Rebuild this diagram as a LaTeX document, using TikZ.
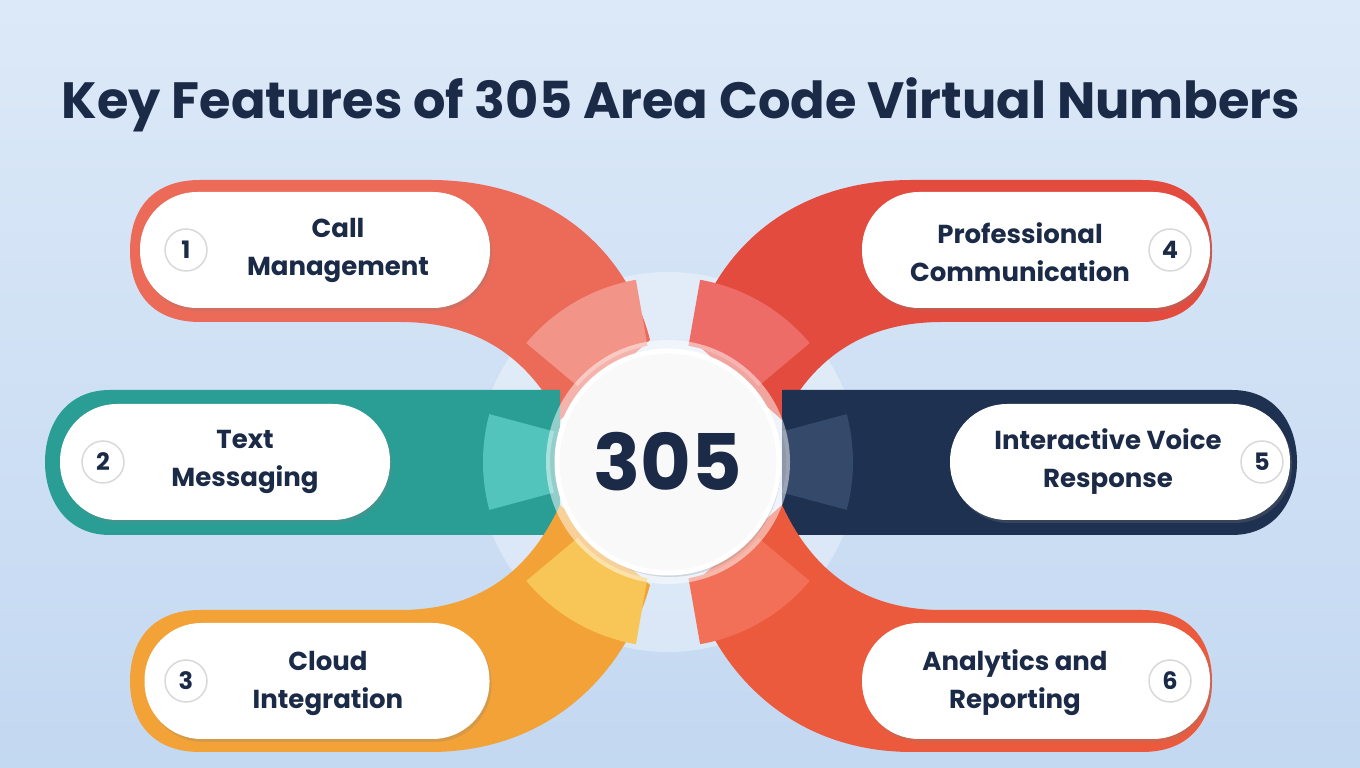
\documentclass[tikz,border=0pt]{standalone}
\usepackage{fontspec}
\setmainfont{Poppins}
\usetikzlibrary{calc,shadows}
\definecolor{navy}{HTML}{1B2A47}
\definecolor{bgtop}{HTML}{DCE9F8}
\definecolor{bgbot}{HTML}{C3D8F1}
\definecolor{coral}{HTML}{EC6A58}
\definecolor{coralL}{HTML}{F39488}
\definecolor{teal}{HTML}{2A9E95}
\definecolor{tealL}{HTML}{52C4BC}
\definecolor{orng}{HTML}{F2A236}
\definecolor{orngL}{HTML}{F7C656}
\definecolor{red}{HTML}{E24B3E}
\definecolor{redL}{HTML}{EE6C68}
\definecolor{dnavy}{HTML}{1F3150}
\definecolor{dnavyL}{HTML}{35496B}
\definecolor{redo}{HTML}{EC5A3E}
\definecolor{redoL}{HTML}{F27058}
\tikzset{
  pill/.style={fill=white,rounded corners=57pt,minimum width=#1,minimum height=116pt,
    drop shadow={opacity=0.25,shadow xshift=2pt,shadow yshift=-3pt}},
  label/.style={text=navy,font=\fontsize{26}{38}\selectfont\bfseries,align=center},
  num/.style={circle,fill=white,draw=gray!30,line width=1.5pt,minimum size=42pt,
    text=navy,font=\fontsize{24}{28}\selectfont\bfseries,inner sep=0pt}
}
\newcommand{\seg}[3]{%
  \fill[#3] ($(C)+(#1:118)$) -- ($(C)+(#1:185)$) arc[start angle=#1,end angle=#2,radius=185]
    -- ($(C)+(#2:118)$) arc[start angle=#2,end angle=#1,radius=118] -- cycle;}
\newcommand{\bandtop}[1]{%
  \fill[#1] (200,588) -- (430,588) .. controls (560,588) and (630,508) .. (650,428)
    -- (560,348) .. controls (530,408) and (480,446) .. (400,446) -- (200,446)
    .. controls (150,446) and (130,478) .. (130,517) .. controls (130,556) and (150,588) .. (200,588);}
\newcommand{\bandmid}[1]{%
  \fill[#1] (110,378) -- (560,378) -- (560,233) -- (110,233)
    .. controls (65,233) and (45,270) .. (45,306) .. controls (45,342) and (65,378) .. (110,378);}
\newcommand{\bandbot}[1]{%
  \fill[#1] (200,16) -- (430,16) .. controls (560,16) and (630,108) .. (650,183)
    -- (560,263) .. controls (530,198) and (480,158) .. (400,158) -- (200,158)
    .. controls (150,158) and (130,125) .. (130,87) .. controls (130,49) and (150,16) .. (200,16);}
\begin{document}
\begin{tikzpicture}[x=1pt,y=1pt]
  \useasboundingbox (0,0) rectangle (1360,768);
  \shade[top color=bgtop,bottom color=bgbot] (0,0) rectangle (1360,768);
  \coordinate (C) at (668,306);
  % title
  \node[text=navy,font=\fontsize{51}{58}\selectfont\bfseries] (title) at (681,663)
    {Key Features of 305 Area Code Virtual Numbers};
  % faint ring
  \fill[white,opacity=0.35] (C) circle[radius=190];
  % bands
  \bandtop{coral}
  \bandmid{teal}
  \bandbot{orng}
  \begin{scope}[xshift=1342pt,xscale=-1]
    \bandtop{red}
    \bandmid{dnavy}
    \bandbot{redo}
  \end{scope}
  % ring segments
  \seg{100}{140}{coralL}
  \seg{165}{195}{tealL}
  \seg{220}{260}{orngL}
  \seg{40}{80}{redL}
  \seg{-15}{15}{dnavyL}
  \seg{-80}{-40}{redoL}
  % centre
  \fill[white,opacity=0.5] (C) circle[radius=122];
  \node[circle,fill=white!95!gray,draw=white,line width=5pt,minimum size=222pt,
    drop shadow={opacity=0.25,shadow xshift=2pt,shadow yshift=-4pt},
    text=navy,font=\fontsize{78}{90}\selectfont\bfseries] (centre) at (C) {305};
  % pills
  \node[pill=350pt] (p1) at (315,518) {};
  \node[pill=330pt] (p2) at (225,306) {};
  \node[pill=345pt] (p3) at (317,87) {};
  \node[pill=348pt] (p4) at (1036,518) {};
  \node[pill=340pt] (p5) at (1120,306) {};
  \node[pill=348pt] (p6) at (1036,87) {};
  % numbers
  \node[num] (n1) at (186,518) {1};
  \node[num] (n2) at (103,306) {2};
  \node[num] (n3) at (186,87) {3};
  \node[num] (n4) at (1170,518) {4};
  \node[num] (n5) at (1262,306) {5};
  \node[num] (n6) at (1170,87) {6};
  % labels
  \node[label] (l1) at (338,518) {Call\\Management};
  \node[label] (l2) at (245,306) {Text\\Messaging};
  \node[label] (l3) at (328,85) {Cloud\\Integration};
  \node[label] (l4) at (1020,516) {Professional\\Communication};
  \node[label] (l5) at (1108,306) {Interactive Voice\\Response};
  \node[label] (l6) at (1015,85) {Analytics and\\Reporting};
\end{tikzpicture}
\end{document}
